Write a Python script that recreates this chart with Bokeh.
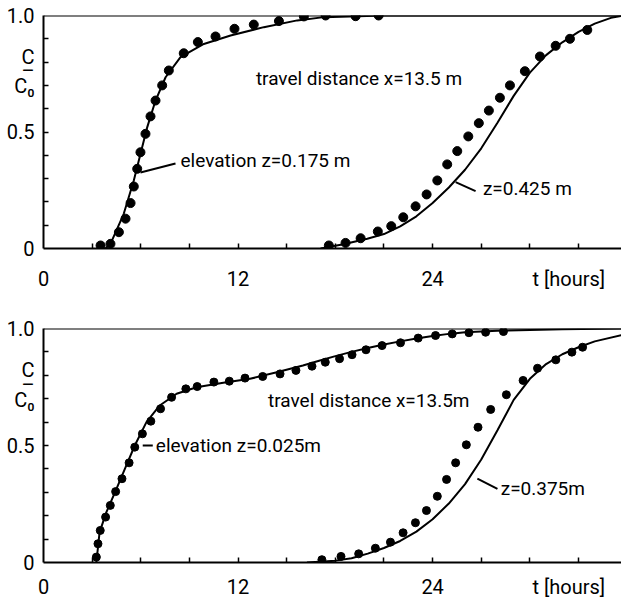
from bokeh.plotting import figure
from bokeh.layouts import column
from bokeh.models import Range1d, FixedTicker, Label, Span
from bokeh.embed import file_html
from bokeh.resources import INLINE

FONT = "Roboto"

# ---------------- data : upper panel (travel distance x = 13.5 m) ----------------
top_a_pts_t = [3.52, 4.13, 4.65, 5.06, 5.37, 5.57, 5.78, 5.98, 6.29, 6.6, 6.91, 7.32,
               7.73, 8.65, 9.52, 10.61, 11.78, 12.97, 14.52, 16.06, 17.4, 19.25, 20.67]
top_a_pts_c = [0.013, 0.02, 0.07, 0.128, 0.195, 0.266, 0.342, 0.413, 0.492, 0.567, 0.635, 0.7,
               0.764, 0.838, 0.886, 0.91, 0.943, 0.961, 0.976, 0.996, 1.0, 0.997, 1.0]
top_a_line_t = [3.82, 4.13, 4.95, 5.57, 5.98, 6.4, 6.91, 7.53, 8.45, 9.89, 11.54, 13.59, 15.65, 17.29, 21.0, 35.65]
top_a_line_c = [0.0, 0.02, 0.149, 0.292, 0.406, 0.521, 0.635, 0.735, 0.821, 0.878, 0.914, 0.95, 0.979, 0.993, 1.0, 1.0]

top_b_pts_t = [17.6, 18.63, 19.56, 20.62, 21.45, 22.19, 22.95, 23.63, 24.29, 24.9, 25.52,
               26.2, 26.85, 27.47, 28.15, 28.77, 29.69, 30.62, 31.59, 32.47, 33.54]
top_b_pts_c = [0.013, 0.024, 0.044, 0.073, 0.096, 0.134, 0.181, 0.232, 0.292, 0.361, 0.418,
               0.481, 0.538, 0.592, 0.647, 0.7, 0.761, 0.824, 0.87, 0.9, 0.938]
top_b_line_t = [17.09, 18.5, 19.97, 21.0, 22.0, 23.0, 24.0, 25.0, 26.0, 27.0, 28.0,
                29.0, 30.0, 31.0, 32.0, 33.0, 34.0, 35.0, 35.65]
top_b_line_c = [0.0, 0.018, 0.042, 0.062, 0.095, 0.138, 0.195, 0.262, 0.338, 0.43, 0.54,
                0.655, 0.755, 0.83, 0.885, 0.93, 0.965, 0.99, 0.998]

# ---------------- data : lower panel (travel distance x = 13.5 m) ----------------
bot_a_pts_t = [3.26, 3.36, 3.5, 3.83, 4.12, 4.45, 4.84, 5.28, 5.63, 6.1, 6.62, 7.22, 7.9,
               8.78, 9.48, 10.51, 11.46, 12.43, 13.52, 14.59, 15.57, 16.56, 17.38, 18.26,
               19.03, 19.89, 20.88, 22.02, 23.11, 24.18, 25.21, 26.24, 27.27, 28.37]
bot_a_pts_c = [0.023, 0.08, 0.137, 0.194, 0.244, 0.303, 0.358, 0.426, 0.493, 0.55, 0.604, 0.657, 0.706,
               0.742, 0.752, 0.771, 0.775, 0.788, 0.795, 0.806, 0.821, 0.839, 0.856, 0.871,
               0.888, 0.909, 0.927, 0.939, 0.959, 0.97, 0.977, 0.982, 0.984, 0.987]
bot_a_line_t = [3.26, 3.46, 3.88, 4.5, 5.11, 5.63, 6.35, 7.17, 8.21, 9.44, 11.09, 12.74, 14.39,
                16.0, 17.0, 18.0, 19.0, 20.0, 21.0, 22.0, 23.0, 24.0, 25.0, 26.0, 28.0, 32.0, 35.65]
bot_a_line_c = [0.0, 0.13, 0.215, 0.315, 0.415, 0.5, 0.6, 0.671, 0.721, 0.749, 0.768, 0.785, 0.813,
                0.842, 0.862, 0.882, 0.9, 0.917, 0.932, 0.945, 0.957, 0.968, 0.977, 0.984, 0.99, 0.997, 1.0]

bot_b_pts_t = [17.17, 18.35, 19.44, 20.47, 21.4, 22.18, 22.94, 23.62, 24.29, 24.86, 25.42,
               26.08, 26.8, 27.58, 28.55, 29.58, 30.47, 31.6, 32.59, 33.25]
bot_b_pts_c = [0.012, 0.026, 0.037, 0.061, 0.087, 0.127, 0.17, 0.222, 0.283, 0.355, 0.426,
               0.503, 0.578, 0.654, 0.717, 0.778, 0.83, 0.866, 0.899, 0.92]
bot_b_line_t = [16.25, 18.0, 19.0, 20.0, 21.0, 22.0, 23.0, 24.0, 25.0, 26.0, 27.0, 28.0,
                29.0, 30.0, 31.0, 32.0, 33.0, 34.0, 35.65]
bot_b_line_c = [0.0, 0.008, 0.018, 0.038, 0.062, 0.092, 0.132, 0.185, 0.252, 0.335, 0.44, 0.565,
                0.695, 0.785, 0.848, 0.89, 0.92, 0.945, 0.972]

# ---------------- ticks / labels ----------------
x_major = [0, 12, 24, 32.4]
x_minor = [3, 6, 9, 12, 15, 18, 21, 24, 27, 30, 33]
x_labels = {0: "0", 12: "12", 24: "24", 32.4: "t [hours]"}
y_major = [0, 0.5, 0.76, 1.0]
y_minor = [0.1, 0.2, 0.3, 0.4, 0.5, 0.6, 0.7, 0.8, 0.9]
y_labels = {0: "0", 0.5: "0.5", 0.76: "C\n\u2013\nC\u2080", 1: "1.0"}
top_notes = ["travel distance  x=13.5 m", "elevation z=0.175 m", "z=0.425 m"]
bot_notes = ["travel distance  x=13.5m", "elevation z=0.025m", "z=0.375m"]


def panel(height, btop, bbottom, standoff, a, b, notes, note_pos, leaders, size):
    p = figure(width=621, height=height, x_range=Range1d(0, 35.65), y_range=Range1d(0, 1.0),
               output_backend="svg", toolbar_location=None,
               min_border_left=43, min_border_right=0,
               min_border_top=btop, min_border_bottom=bbottom)
    p.outline_line_color = None
    p.grid.visible = False
    p.background_fill_color = "white"
    p.border_fill_color = "white"

    for ax in (p.xaxis[0], p.yaxis[0]):
        ax.axis_line_width = 2
        ax.axis_line_color = "black"
        ax.major_tick_in = 0
        ax.major_tick_out = 0
        ax.minor_tick_in = 5
        ax.minor_tick_out = 0
        ax.minor_tick_line_width = 1.5
        ax.major_label_text_font = FONT
        ax.major_label_text_font_size = "20px"
        ax.major_label_text_color = "black"
    p.xaxis.ticker = FixedTicker(ticks=x_major, minor_ticks=x_minor)
    p.xaxis.major_label_overrides = x_labels
    p.xaxis.major_label_standoff = standoff
    p.yaxis.ticker = FixedTicker(ticks=y_major, minor_ticks=y_minor)
    p.yaxis.major_label_overrides = y_labels
    p.yaxis.major_label_standoff = 9
    p.yaxis.major_label_text_line_height = 0.62

    p.add_layout(Span(location=1.0, dimension="width", line_color="black", line_width=2))

    for (lt, lc, pt, pc) in (a, b):
        p.line(lt, lc, line_color="black", line_width=2)
        p.scatter(pt, pc, size=size, fill_color="black", line_color="black")

    for txt, (x, y) in zip(notes, note_pos):
        p.add_layout(Label(x=x, y=y, text=txt, text_font=FONT, text_font_size="19px",
                           text_baseline="middle", text_align="left", text_color="black"))
    x0, y0, x1, y1 = zip(*leaders)
    p.segment(list(x0), list(y0), list(x1), list(y1), line_color="black", line_width=2)
    return p


p1 = panel(310, 15, 62, 18,
           (top_a_line_t, top_a_line_c, top_a_pts_t, top_a_pts_c),
           (top_b_line_t, top_b_line_c, top_b_pts_t, top_b_pts_c),
           top_notes, [(13.1, 0.73), (8.45, 0.378), (27.1, 0.258)],
           [(5.98, 0.326, 8.14, 0.365), (25.42, 0.285, 26.65, 0.246)], 9)
p2 = panel(291, 18, 39, 12,
           (bot_a_line_t, bot_a_line_c, bot_a_pts_t, bot_a_pts_c),
           (bot_b_line_t, bot_b_line_c, bot_b_pts_t, bot_b_pts_c),
           bot_notes, [(13.85, 0.692), (6.93, 0.5), (28.2, 0.316)],
           [(6.12, 0.5, 6.74, 0.5), (26.76, 0.358, 28.0, 0.315)], 8)

layout = column(p1, p2, spacing=0)
open("out.html", "w").write(file_html(layout, INLINE))
